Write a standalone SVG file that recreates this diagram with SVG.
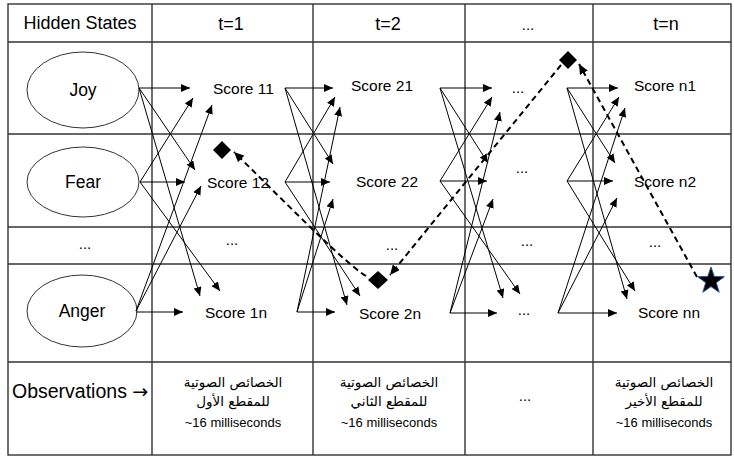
<svg xmlns="http://www.w3.org/2000/svg" width="734" height="459" viewBox="0 0 734 459">
<style>
.grid{stroke:#333;stroke-width:1.4;fill:none}
.ell{stroke:#333;stroke-width:1;fill:#fff}
.c{stroke:#000;stroke-width:1;fill:none;marker-end:url(#ah)}
.d{stroke:#000;stroke-width:2;stroke-dasharray:6 4;fill:none;marker-end:url(#ahd)}
text{font-family:"Liberation Sans","DejaVu Sans",sans-serif;fill:#000}
.hd{font-size:18px;text-anchor:middle}
.st{font-size:17.5px;text-anchor:middle}
.sc{font-size:15.5px}
.dt{font-size:15px;text-anchor:middle}
.ob{font-size:13px;text-anchor:middle}
.ar{font-size:13.5px;text-anchor:middle;font-family:"DejaVu Sans","Liberation Sans",sans-serif}
</style>
<defs>
<marker id="ah" markerUnits="userSpaceOnUse" markerWidth="9" markerHeight="8" refX="9" refY="4" orient="auto"><path d="M0,0 L9,4 L0,8 z" fill="#000"/></marker>
<marker id="ahd" markerUnits="userSpaceOnUse" markerWidth="10" markerHeight="9" refX="10" refY="4.5" orient="auto"><path d="M0,0 L10,4.5 L0,9 z" fill="#000"/></marker>
</defs>
<rect width="734" height="459" fill="#fff"/>
<g id="grid">
<rect class="grid" x="8" y="4" width="723" height="451"/>
<line class="grid" x1="152" y1="4" x2="152" y2="455"/>
<line class="grid" x1="313" y1="4" x2="313" y2="455"/>
<line class="grid" x1="465" y1="4" x2="465" y2="455"/>
<line class="grid" x1="593" y1="4" x2="593" y2="455"/>
<line class="grid" x1="8" y1="42" x2="731" y2="42"/>
<line class="grid" x1="8" y1="134" x2="731" y2="134"/>
<line class="grid" x1="8" y1="227" x2="731" y2="227"/>
<line class="grid" x1="8" y1="264" x2="731" y2="264"/>
<line class="grid" x1="8" y1="362" x2="731" y2="362"/>
</g>
<g id="header">
<text class="hd" x="80" y="29">Hidden States</text>
<text class="hd" x="231" y="30">t=1</text>
<text class="hd" x="388" y="30">t=2</text>
<text class="dt" x="528" y="30">...</text>
<text class="hd" x="666" y="30">t=n</text>
</g>
<g id="joy"><ellipse class="ell" cx="83" cy="90" rx="56" ry="38"/><text class="st" x="83" y="96">Joy</text></g>
<g id="fear"><ellipse class="ell" cx="83" cy="182" rx="56" ry="35"/><text class="st" x="83" y="188">Fear</text></g>
<g id="states-dots"><text class="dt" x="85" y="249">...</text></g>
<g id="anger"><ellipse class="ell" cx="82" cy="311" rx="55" ry="36"/><text class="st" x="82" y="317">Anger</text></g>
<g id="scores">
<text class="sc" x="213" y="94">Score 11</text>
<text class="sc" x="351" y="91">Score 21</text>
<text class="dt" x="518" y="93">...</text>
<text class="sc" x="634" y="91">Score n1</text>
<text class="sc" x="207" y="188">Score 12</text>
<text class="sc" x="356" y="187">Score 22</text>
<text class="dt" x="522" y="173">...</text>
<text class="sc" x="634" y="187">Score n2</text>
<text class="dt" x="232" y="245">...</text>
<text class="dt" x="392" y="250">...</text>
<text class="dt" x="527" y="246">...</text>
<text class="dt" x="655" y="247">...</text>
<text class="sc" x="205" y="318">Score 1n</text>
<text class="sc" x="359" y="319">Score 2n</text>
<text class="dt" x="524" y="315">...</text>
<text class="sc" x="638" y="318">Score nn</text>
</g>
<g id="observations">
<text x="12" y="398" font-size="19.5">Observations <tspan font-family="DejaVu Sans, sans-serif" font-size="19">→</tspan></text>
<text class="ar" x="233" y="387">الخصائص الصوتية</text>
<text class="ar" x="233" y="406">للمقطع الأول</text>
<text class="ob" x="233" y="427">~16 milliseconds</text>
<text class="ar" x="389" y="387">الخصائص الصوتية</text>
<text class="ar" x="389" y="406">للمقطع الثاني</text>
<text class="ob" x="389" y="427">~16 milliseconds</text>
<text class="dt" x="525" y="401">...</text>
<text class="ar" x="664" y="387">الخصائص الصوتية</text>
<text class="ar" x="664" y="406">للمقطع الأخير</text>
<text class="ob" x="664" y="427">~16 milliseconds</text>
</g>
<g id="connectors">
<line class="c" x1="139" y1="88" x2="190" y2="88"/>
<line class="c" x1="139" y1="88" x2="195" y2="170"/>
<line class="c" x1="139" y1="88" x2="200" y2="296"/>
<line class="c" x1="140" y1="182" x2="193" y2="98"/>
<line class="c" x1="140" y1="182" x2="185" y2="182"/>
<line class="c" x1="140" y1="182" x2="220" y2="291"/>
<line class="c" x1="136" y1="311" x2="212" y2="105"/>
<line class="c" x1="136" y1="311" x2="201" y2="186"/>
<line class="c" x1="136" y1="312" x2="183" y2="312"/>

<line class="c" x1="285" y1="88" x2="333" y2="88"/>
<line class="c" x1="285" y1="88" x2="333" y2="164"/>
<line class="c" x1="285" y1="88" x2="347" y2="305"/>
<line class="c" x1="285" y1="182" x2="335" y2="97"/>
<line class="c" x1="285" y1="182" x2="330" y2="182"/>
<line class="c" x1="285" y1="182" x2="360" y2="296"/>
<line class="c" x1="297" y1="312" x2="340" y2="107"/>
<line class="c" x1="297" y1="312" x2="333" y2="199"/>
<line class="c" x1="297" y1="312" x2="335" y2="312"/>

<line class="c" x1="440" y1="88" x2="492" y2="88"/>
<line class="c" x1="440" y1="88" x2="488" y2="163"/>
<line class="c" x1="440" y1="88" x2="503" y2="298"/>
<line class="c" x1="440" y1="181" x2="492" y2="97"/>
<line class="c" x1="440" y1="181" x2="487" y2="181"/>
<line class="c" x1="440" y1="181" x2="520" y2="294"/>
<line class="c" x1="450" y1="313" x2="500" y2="112"/>
<line class="c" x1="450" y1="313" x2="493" y2="199"/>
<line class="c" x1="450" y1="313" x2="497" y2="313"/>

<line class="c" x1="567" y1="88" x2="618" y2="88"/>
<line class="c" x1="567" y1="88" x2="615" y2="163"/>
<line class="c" x1="567" y1="88" x2="627" y2="299"/>
<line class="c" x1="567" y1="181" x2="619" y2="97"/>
<line class="c" x1="567" y1="181" x2="613" y2="181"/>
<line class="c" x1="567" y1="181" x2="635" y2="291"/>
<line class="c" x1="558" y1="313" x2="625" y2="108"/>
<line class="c" x1="558" y1="313" x2="617" y2="198"/>
<line class="c" x1="558" y1="313" x2="617" y2="313"/>
</g>
<g id="viterbi-path">
<path class="d" d="M697 277 L579 64"/>
<path class="d" d="M561 65 L390 275"/>
<path class="d" d="M366 276 C345 264 268 185 234 152"/>
</g>
<g id="markers">
<polygon id="diamond1" points="222,141 231,150 222,159 213,150" fill="#000"/>
<polygon id="diamond2" points="378,271 388,280 378,289 368,280" fill="#000"/>
<polygon id="diamond3" points="568,51 577,60 568,69 559,60" fill="#000"/>
<polygon id="star" points="711,267 714.3,276.5 724.3,276.7 716.3,282.7 719.2,292.3 711,286.6 702.8,292.3 705.7,282.7 697.7,276.7 707.7,276.5" fill="#000" stroke="#2f5597" stroke-width="1"/>
</g>
</svg>
